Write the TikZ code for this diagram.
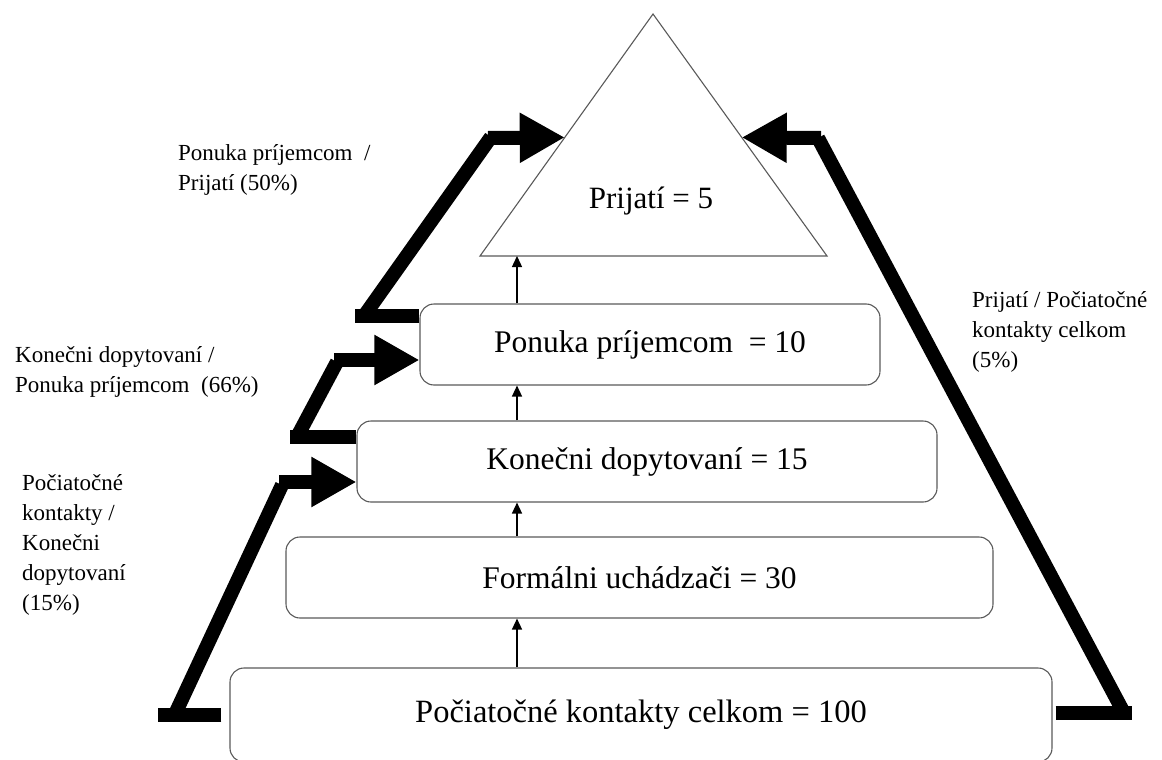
\documentclass[tikz,border=0pt]{standalone}
\usepackage{fontspec}
\setmainfont{Liberation Serif}
\usetikzlibrary{calc,arrows.meta}

\begin{document}
\begin{tikzpicture}[x=1pt, y=-1pt,
    box/.style = {draw=black!65, line width=1.1pt, rounded corners=14pt, minimum height=81pt, inner sep=0pt, font=\fontsize{31.5}{36}\selectfont},
    lbl/.style = {anchor=north west, align=left, inner sep=0pt, font=\fontsize{23}{30}\selectfont},
    a/.style = {-{Triangle[length=11pt,width=10pt]}, line width=1.3pt},
    fat/.style = {line width=14pt},
    fa/.style = {fat, -{Triangle[length=45pt,width=47pt]}}]
  \useasboundingbox (0,0) rectangle (1162,760);

  \coordinate (top) at (653,14);
  \coordinate (tl) at (480,256);
  \coordinate (tr) at (827,256);
  \draw [draw=black!65, line width=1.1pt] (tl) -- (top) -- (tr) -- cycle;
  \node [font=\fontsize{31}{36}\selectfont] (t) at (651,201) {Prijatí = 5};

  \node [box, minimum width=460pt] (b1) at (650,344.5) {Ponuka príjemcom~ = 10};
  \node [box, minimum width=580pt] (b2) at (647,461.5) {Konečni dopytovaní = 15};
  \node [box, minimum width=707pt] (b3) at (639.5,577.5) {Formálni uchádzači = 30};
  \node [box, minimum width=822pt, minimum height=94pt, font=\fontsize{32.5}{36}\selectfont] (b4) at (641,715) {Počiatočné kontakty celkom = 100};

  \coordinate (ax) at (517,0);
  \foreach \lo/\hi in {b4/b3, b3/b2, b2/b1} {
    \draw [a] (\lo.north -| ax) -- (\hi.south -| ax);
  }
  \draw [a] (b1.north -| ax) -- (tl -| ax);

  \draw [fat] ($(b4.west)+(-8,0)$) -- (158,715);
  \draw [fat] (176,712) -- (282,485);
  \draw [fa] (279,482) -- (b2.west |- 0,482);

  \draw [fat] (b2.west |- 0,437) -- (290,437);
  \draw [fat] (297,437) -- (337,362);
  \draw [fa] (334,360) -- (b1.west |- 0,360);

  \draw [fat] (b1.west |- 0,316) -- (355,316);
  \draw [fat] (364,316) -- (491,137);
  \draw [fa] (488,138) -- ($(tl)!0.49!(top)$);

  \draw [fat] ($(b4.east)+(3,-2)$) -- (1132,713);
  \draw [fat] (1124,713) -- (818,138);
  \draw [fa] (821,138) -- ($(tr)!0.49!(top)$);

  \node [lbl] (l1) at (178,144) {Ponuka príjemcom~ /\\Prijatí (50\%)};
  \node [lbl] (l2) at (15,346) {Konečni dopytovaní /\\Ponuka príjemcom~ (66\%)};
  \node [lbl] (l3) at (22,474) {Počiatočné\\kontakty /\\Konečni\\dopytovaní\\(15\%)};
  \node [lbl] (l4) at (972,291) {Prijatí / Počiatočné\\kontakty celkom\\(5\%)};
\end{tikzpicture}
\end{document}
